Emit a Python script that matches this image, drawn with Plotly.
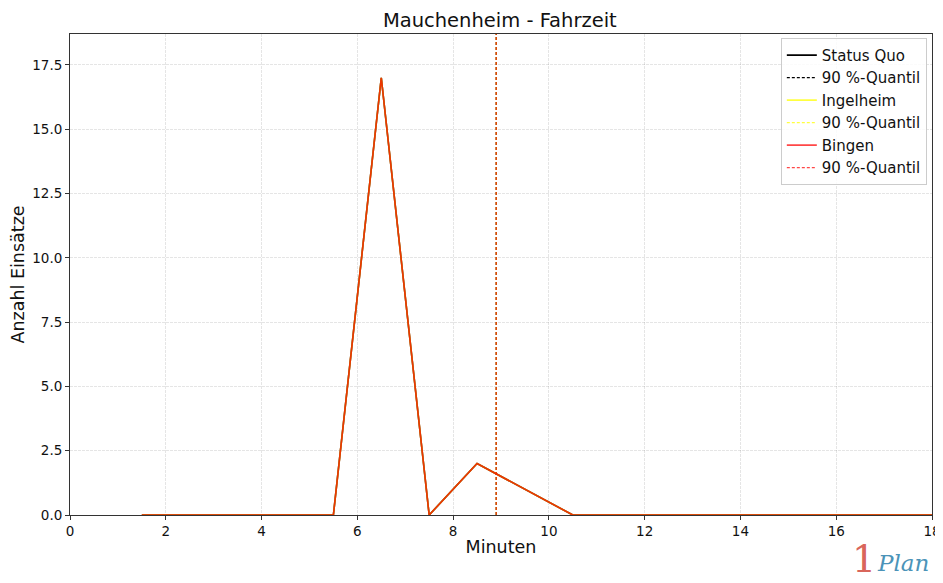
import plotly.graph_objects as go

minutes = [1.5, 2.5, 3.5, 4.5, 5.5, 6.5, 7.5, 8.5, 9.5, 10.5, 11.5, 12.5, 13.5, 14.5, 15.5, 16.5, 17.5, 18.5]
status_quo = [0, 0, 0, 0, 0, 17, 0, 2, 1, 0, 0, 0, 0, 0, 0, 0, 0, 0]
ingelheim = [0, 0, 0, 0, 0, 17, 0, 2, 1, 0, 0, 0, 0, 0, 0, 0, 0, 0]
bingen = [0, 0, 0, 0, 0, 17, 0, 2, 1, 0, 0, 0, 0, 0, 0, 0, 0, 0]
q90 = {"Status Quo": 8.9, "Ingelheim": 8.9, "Bingen": 8.9}
x_ticks = [0, 2, 4, 6, 8, 10, 12, 14, 16, 18]
y_ticks = [0, 2.5, 5, 7.5, 10, 12.5, 15, 17.5]
y_max = 18.7

series = [
    ("Status Quo", status_quo, "rgba(0,0,0,1)"),
    ("Ingelheim", ingelheim, "rgba(255,255,0,0.75)"),
    ("Bingen", bingen, "rgba(255,0,0,0.72)"),
]

fig = go.Figure()
for name, vals, col in series:
    fig.add_trace(go.Scatter(x=minutes, y=vals, mode="lines", name=name,
                             line=dict(color=col, width=1.6)))
    fig.add_trace(go.Scatter(x=[q90[name], q90[name]], y=[0, y_max], mode="lines",
                             name="90 %-Quantil", line=dict(color=col, width=1.2, dash="3px,2px")))

axis_common = dict(showline=True, linecolor="#333", linewidth=1, mirror=True,
                   ticks="outside", ticklen=4, tickcolor="#333", automargin=False,
                   showgrid=True, gridcolor="rgba(0,0,0,0.1)", griddash="3px,1px", gridwidth=1,
                   zeroline=False, tickfont=dict(size=13.5, color="#111"))

# page body has an 8px default margin, so the figure is offset by 8px
fig.update_layout(
    width=935, height=575,
    margin=dict(l=62, r=11, t=26, b=68),
    paper_bgcolor="white", plot_bgcolor="white",
    font=dict(family="DejaVu Sans", color="#111"),
    title=dict(text="Mauchenheim - Fahrzeit", x=0.526, xanchor="center", y=0.978, yanchor="middle",
               font=dict(size=19.5, color="#111"), automargin=False),
    xaxis=dict(range=[0, 18], tickvals=x_ticks, ticktext=[str(v) for v in x_ticks],
               title=dict(text="Minuten", font=dict(size=17.5), standoff=2), **axis_common),
    yaxis=dict(range=[0, y_max], tickvals=y_ticks, ticktext=[f"{v:.1f}" for v in y_ticks],
               title=dict(text="Anzahl Einsätze", font=dict(size=17.5), standoff=8), **axis_common),
    legend=dict(x=0.994, y=0.992, xanchor="right", yanchor="top", bgcolor="rgba(255,255,255,0.85)",
                bordercolor="#ccc", borderwidth=1, font=dict(size=15, color="#111"),
                tracegroupgap=0, itemwidth=30),
    showlegend=True,
)

fig.add_annotation(text="1", xref="paper", yref="paper", x=0.937, y=-0.092, xanchor="right", yanchor="middle",
                   showarrow=False, font=dict(size=38, color="#d9665b", family="DejaVu Serif"))
fig.add_annotation(text="<i>Plan</i>", xref="paper", yref="paper", x=0.934, y=-0.1, xanchor="left", yanchor="middle",
                   showarrow=False, font=dict(size=23, color="#4b93b8", family="DejaVu Serif"))

fig.write_html("out.html")
